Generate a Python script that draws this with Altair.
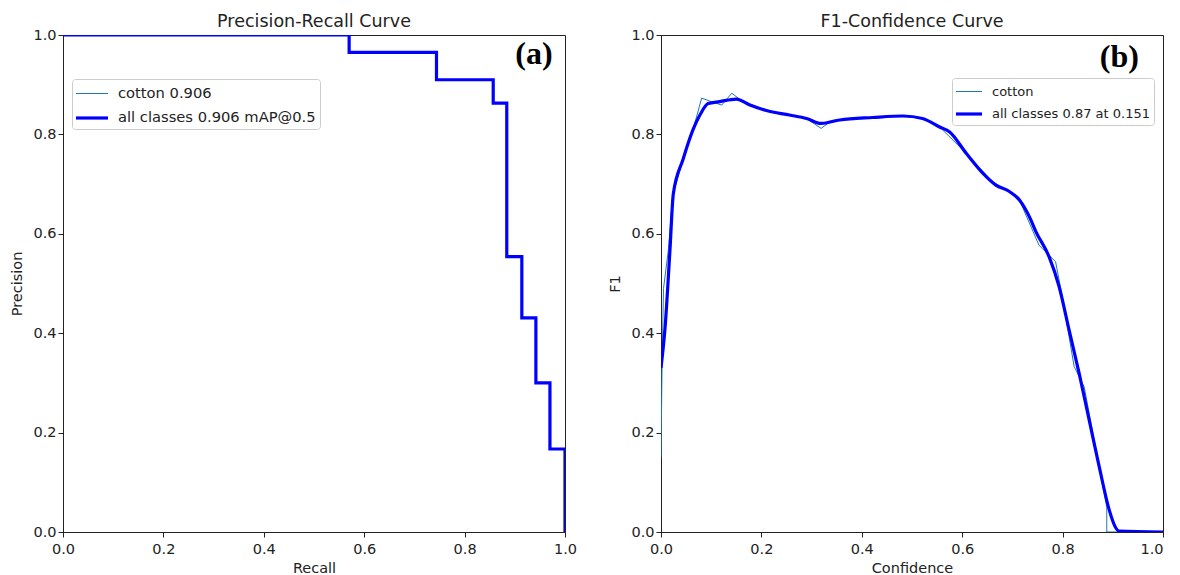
import altair as alt
import pandas as pd

# ---------------- data ----------------
pr_recall = [0.0, 0.570, 0.744, 0.857, 0.884, 0.914, 0.942, 0.970, 1.0]
pr_precision = [1.0, 0.965, 0.910, 0.863, 0.554, 0.431, 0.300, 0.167, 0.0]

f1_cotton_conf = [0.0, 0.002, 0.005, 0.015, 0.024, 0.030, 0.044, 0.064, 0.081, 0.100,
                  0.121, 0.141, 0.160, 0.210, 0.256, 0.290, 0.319, 0.340, 0.422, 0.482,
                  0.521, 0.555, 0.608, 0.660, 0.694, 0.714, 0.753, 0.760, 0.786, 0.800,
                  0.823, 0.843, 0.873, 0.888, 0.888, 1.0]
f1_cotton_val = [0.15, 0.33, 0.49, 0.57, 0.685, 0.70, 0.75, 0.81, 0.873, 0.866,
                 0.859, 0.883, 0.868, 0.848, 0.839, 0.832, 0.812, 0.828, 0.834, 0.837,
                 0.832, 0.815, 0.762, 0.705, 0.685, 0.668, 0.577, 0.570, 0.544, 0.470,
                 0.333, 0.292, 0.131, 0.05, 0.0, 0.0]

f1_all_conf = [0.0, 0.008, 0.018, 0.0245, 0.044, 0.064, 0.078, 0.094, 0.117, 0.150,
               0.177, 0.210, 0.256, 0.290, 0.319, 0.356, 0.422, 0.482, 0.521, 0.555,
               0.575, 0.608, 0.641, 0.667, 0.694, 0.714, 0.734, 0.747, 0.773, 0.793,
               0.813, 0.833, 0.853, 0.873, 0.893, 0.905, 0.912, 1.0]
f1_all_val = [0.33, 0.41, 0.57, 0.68, 0.75, 0.81, 0.84, 0.862, 0.866, 0.871,
              0.859, 0.848, 0.839, 0.832, 0.822, 0.829, 0.834, 0.837, 0.832, 0.815,
              0.805, 0.762, 0.722, 0.698, 0.685, 0.668, 0.634, 0.604, 0.554, 0.494,
              0.406, 0.319, 0.225, 0.131, 0.044, 0.010, 0.002, 0.0]

pr_labels = ["cotton 0.906", "all classes 0.906 mAP@0.5"]
f1_labels = ["cotton", "all classes 0.87 at 0.151"]
ticks = [0.0, 0.2, 0.4, 0.6, 0.8, 1.0]
line_colors = ["#1f77b4", "#0000ff"]
line_widths = [1.0, 3.2]

FONT = "DejaVu Sans"
W, H = 502, 497


def frame(xs, ys, label):
    return pd.DataFrame({"x": xs, "y": ys, "series": label, "i": list(range(len(xs)))})


def encodings(labels, xtitle, ytitle, legend, last_right=False):
    xaxis = dict(values=ticks, format=".1f", title=xtitle, labelFlush=False)
    if last_right:
        xaxis["labelAlign"] = alt.condition("datum.value >= 1", alt.value("right"),
                                            alt.value("center"))
    return dict(
        x=alt.X("x:Q", scale=alt.Scale(domain=[0, 1], nice=False),
                axis=alt.Axis(**xaxis)),
        y=alt.Y("y:Q", scale=alt.Scale(domain=[0, 1], nice=False),
                axis=alt.Axis(values=ticks, format=".1f", title=ytitle, labelFlush=False)),
        order=alt.Order("i:Q"),
        color=alt.Color("series:N", scale=alt.Scale(domain=labels, range=line_colors),
                        legend=legend),
        strokeWidth=alt.StrokeWidth("series:N",
                                    scale=alt.Scale(domain=labels, range=line_widths),
                                    legend=legend),
    )


legend_a = alt.Legend(title=None, orient="none", legendX=9, legendY=44,
                      strokeColor="#cccccc", fillColor="white", cornerRadius=3,
                      padding=4, rowPadding=5, symbolSize=400,
                      symbolType="M-1.6,0H1.6", symbolOffset=4, labelOffset=14,
                      labelLimit=400,
                      labelFont=FONT, labelFontSize=14.7, labelColor="#222222")
legend_b = alt.Legend(title=None, orient="none", legendX=291, legendY=43,
                      strokeColor="#cccccc", fillColor="white", cornerRadius=3,
                      padding=4, rowPadding=4, symbolSize=324,
                      symbolType="M-1.45,0H1.45", symbolOffset=2, labelOffset=12,
                      labelLimit=400,
                      labelFont=FONT, labelFontSize=13, labelColor="#222222")

enc_a = encodings(pr_labels, "Recall", "Precision", legend_a)
enc_b = encodings(f1_labels, "Confidence", "F1", legend_b, last_right=True)

pr_cotton = alt.Chart(frame(pr_recall, pr_precision, pr_labels[0])).mark_line(
    interpolate="step-after", clip=True).encode(**enc_a)
pr_all = alt.Chart(frame(pr_recall, pr_precision, pr_labels[1])).mark_line(
    interpolate="step-after", clip=True).encode(**enc_a)

label_a = alt.Chart(pd.DataFrame({"x": [0.938], "y": [0.962], "t": ["(a)"]})).mark_text(
    font="Liberation Serif", fontWeight="bold", fontSize=32, color="black"
).encode(x="x:Q", y="y:Q", text="t:N")

f1_cotton = alt.Chart(frame(f1_cotton_conf, f1_cotton_val, f1_labels[0])).mark_line(
    clip=True).encode(**enc_b)
f1_all = alt.Chart(frame(f1_all_conf, f1_all_val, f1_labels[1])).mark_line(
    interpolate="monotone", clip=True).encode(**enc_b)

label_b = alt.Chart(pd.DataFrame({"x": [0.913], "y": [0.955], "t": ["(b)"]})).mark_text(
    font="Liberation Serif", fontWeight="bold", fontSize=32, color="black"
).encode(x="x:Q", y="y:Q", text="t:N")

left = alt.layer(pr_cotton, pr_all, label_a).properties(
    width=W, height=H, title="Precision-Recall Curve")
right = alt.layer(f1_cotton, f1_all, label_b).properties(
    width=W, height=H, title="F1-Confidence Curve")

chart = alt.hconcat(left, right, spacing=29).resolve_scale(
    color="independent", strokeWidth="independent"
).properties(
    padding={"left": 1, "top": 4, "right": 0, "bottom": 0}
).configure_view(
    stroke="#222222", strokeWidth=1
).configure_axis(
    grid=False, domainColor="#222222", domainWidth=1, tickColor="#222222",
    tickSize=5, labelFont=FONT, labelFontSize=14.5, labelColor="#222222",
    titleFont=FONT, titleFontSize=14.5, titleFontWeight="normal", titleColor="#222222"
).configure_axisX(
    labelPadding=5, titlePadding=6
).configure_axisY(
    labelPadding=2, titlePadding=8
).configure_title(
    font=FONT, fontSize=17.5, fontWeight="normal", color="#222222", offset=-3
)

chart.save("out.html", embed_options={"renderer": "svg", "actions": False})
